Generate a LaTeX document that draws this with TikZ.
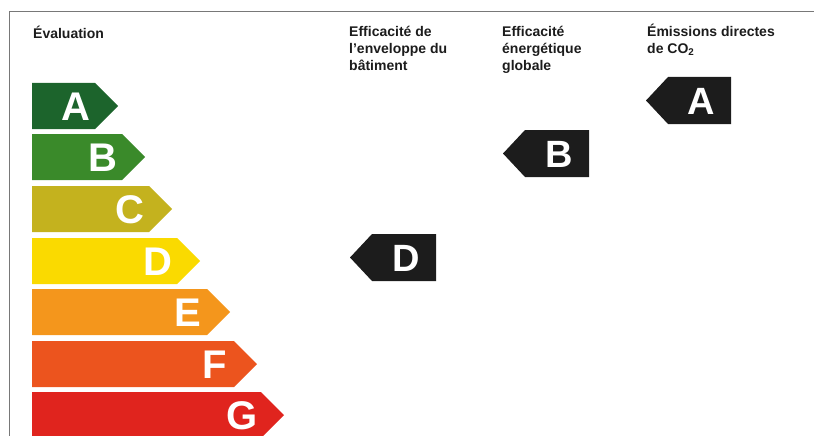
\documentclass[tikz,border=0pt]{standalone}
\usepackage{fontspec}
\setmainfont{Liberation Sans}
\definecolor{frame}{RGB}{120,120,120}
\definecolor{cA}{RGB}{28,100,44}
\definecolor{cB}{RGB}{58,138,42}
\definecolor{cC}{RGB}{196,178,30}
\definecolor{cD}{RGB}{250,218,0}
\definecolor{cE}{RGB}{244,150,28}
\definecolor{cF}{RGB}{236,84,30}
\definecolor{cG}{RGB}{224,36,30}
\definecolor{ink}{RGB}{28,28,28}
\begin{document}
\begin{tikzpicture}[x=1pt,y=-1pt,
  head/.style={anchor=north west,align=left,inner sep=0pt,text=ink,
    font=\fontsize{14}{17}\selectfont\bfseries},
  barletter/.style={text=white,inner sep=0pt,
    font=\fontsize{40}{40}\selectfont\bfseries},
  tagletter/.style={text=white,inner sep=0pt,
    font=\fontsize{38}{38}\selectfont\bfseries}]
\useasboundingbox (0,0) rectangle (814,436);
% frame
\draw[frame,line width=1.5pt] (9.5,436) -- (9.5,11.5) -- (814,11.5);
% headers
\node[head] (hEval) at (33,26) {Évaluation};
\node[head] (hEnv) at (349,26) {Efficacité de\\l'enveloppe du\\bâtiment};
\node[head] (hGlob) at (502,26) {Efficacité\\énergétique\\globale};
\node[head] (hCO) at (647,24) {Émissions directes\\de CO\textsubscript{2}};
% scale bars
\foreach \L/\top/\tip in {A/83/118,B/134/145,C/186/172,D/238/200,E/289/230,F/341/257,G/392/284}{
  \fill[c\L] (32,\top) -- (\tip-23,\top) -- (\tip,\top+23) -- (\tip-23,\top+46) -- (32,\top+46) -- cycle;
  \node[barletter] (bar\L) at (\tip-42,\top+24) {\L};
}
% black tags
\foreach \n/\L/\lx/\rx/\top in {tEnv/D/350/436/234,tGlob/B/503/589/130,tCO/A/646/731/77}{
  \fill[ink] (\lx,\top+23.5) -- (\lx+22,\top) -- (\rx,\top) -- (\rx,\top+47) -- (\lx+22,\top+47) -- cycle;
  \node[tagletter] (\n) at (\rx-30,\top+24) {\L};
}
\end{tikzpicture}
\end{document}
